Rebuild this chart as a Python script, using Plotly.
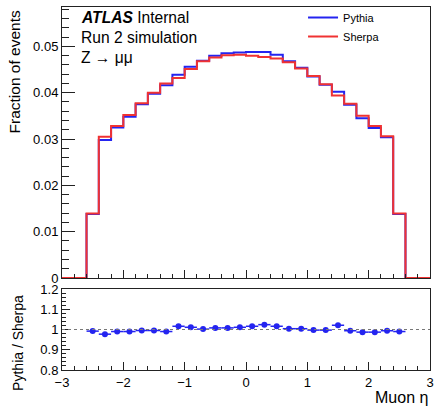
import plotly.graph_objects as go

# ---------------- data ----------------
bin_edges = [-3.0, -2.8, -2.6, -2.4, -2.2, -2.0, -1.8, -1.6, -1.4, -1.2, -1.0,
             -0.8, -0.6, -0.4, -0.2, 0.0, 0.2, 0.4, 0.6, 0.8, 1.0,
             1.2, 1.4, 1.6, 1.8, 2.0, 2.2, 2.4, 2.6, 2.8, 3.0]

pythia_frac = [0.0, 0.0,
               0.0138, 0.0298, 0.0325, 0.0348, 0.0375, 0.0398, 0.0416, 0.0439,
               0.0456, 0.0469, 0.0480, 0.0485, 0.0487, 0.0488, 0.0488, 0.0482,
               0.0468, 0.0454, 0.0435, 0.0417, 0.0402, 0.0374, 0.0345, 0.0324,
               0.0304, 0.0138,
               0.0, 0.0]

sherpa_frac = [0.0, 0.0,
               0.0139, 0.0305, 0.0328, 0.0352, 0.0377, 0.0400, 0.0420, 0.0432,
               0.0451, 0.0468, 0.0476, 0.0481, 0.0482, 0.0480, 0.0477, 0.0474,
               0.0466, 0.0452, 0.0436, 0.0418, 0.0394, 0.0376, 0.0350, 0.0328,
               0.0306, 0.0139,
               0.0, 0.0]

ratio_x = [-2.5, -2.3, -2.1, -1.9, -1.7, -1.5, -1.3, -1.1, -0.9, -0.7, -0.5,
           -0.3, -0.1, 0.1, 0.3, 0.5, 0.7, 0.9, 1.1, 1.3, 1.5, 1.7, 1.9, 2.1,
           2.3, 2.5]
ratio_val = [0.992, 0.977, 0.990, 0.990, 0.995, 0.995, 0.990, 1.016, 1.011,
             1.002, 1.008, 1.008, 1.011, 1.016, 1.024, 1.016, 1.004, 1.004,
             0.997, 0.997, 1.021, 0.994, 0.987, 0.987, 0.994, 0.990]
ratio_err = [0.005, 0.004, 0.004, 0.004, 0.004, 0.004, 0.004, 0.004, 0.004,
             0.004, 0.004, 0.004, 0.004, 0.004, 0.004, 0.004, 0.004, 0.004,
             0.004, 0.004, 0.004, 0.004, 0.004, 0.004, 0.004, 0.005]
bin_half_width = 0.1

x_ticks = [-3, -2, -1, 0, 1, 2, 3]
x_ticklabels = ["\u22123", "\u22122", "\u22121", "0", "1", "2", "3"]
main_yticks = [0, 0.01, 0.02, 0.03, 0.04, 0.05]
main_yticklabels = ["0", "0.01", "0.02", "0.03", "0.04", "0.05"]
ratio_yticks = [0.8, 0.9, 1.0, 1.1, 1.2]
ratio_yticklabels = ["0.8", "0.9", "1", "1.1", "1.2"]

BLUE = "#2424f0"
RED = "#f03232"
FONT = "Liberation Sans, Arial, Helvetica, sans-serif"

fig = go.Figure()

fig.add_trace(go.Scatter(
    x=bin_edges, y=pythia_frac + [pythia_frac[-1]], mode="lines",
    line=dict(color=BLUE, width=2, shape="hv"), name="Pythia",
    legendgroup="pythia", xaxis="x", yaxis="y"))
fig.add_trace(go.Scatter(
    x=bin_edges, y=sherpa_frac + [sherpa_frac[-1]], mode="lines",
    line=dict(color=RED, width=2, shape="hv"), name="Sherpa",
    legendgroup="sherpa", xaxis="x", yaxis="y"))

fig.add_trace(go.Scatter(
    x=ratio_x, y=ratio_val, mode="markers",
    marker=dict(color=BLUE, size=6),
    error_x=dict(type="constant", value=bin_half_width, color=BLUE,
                 thickness=1.5, width=0),
    error_y=dict(type="data", array=ratio_err, color=BLUE,
                 thickness=1.5, width=0),
    showlegend=False, xaxis="x2", yaxis="y2"))

common_x = dict(range=[-3, 3], showline=True, linecolor="#222", linewidth=1,
                mirror=True, ticks="inside", tickcolor="#222",
                tickvals=x_ticks, showgrid=False, zeroline=False,
                minor=dict(dtick=0.2, tick0=0, ticks="inside", ticklen=4,
                           tickcolor="#222"))

fig.update_layout(
    width=434, height=410,
    margin=dict(l=62, r=4, t=7, b=40, autoexpand=False),
    paper_bgcolor="white", plot_bgcolor="white",
    font=dict(family=FONT, size=13, color="black"),
    xaxis=dict(**common_x, ticklen=8, showticklabels=False,
               domain=[0, 1], anchor="y", matches="x2"),
    yaxis=dict(range=[0, 0.0585], domain=[0.2534, 1], anchor="x",
               showline=True, linecolor="#222", linewidth=1, mirror=True,
               ticks="inside", ticklen=13, tickcolor="#222",
               tickvals=main_yticks, ticktext=main_yticklabels,
               showgrid=False, zeroline=False,
               minor=dict(dtick=0.002, tick0=0, ticks="inside", ticklen=7,
                          tickcolor="#222")),
    xaxis2=dict(**common_x, ticklen=8, ticktext=x_ticklabels,
                domain=[0, 1], anchor="y2"),
    yaxis2=dict(range=[0.8, 1.2], domain=[0, 0.2231], anchor="x2",
                showline=True, linecolor="#222", linewidth=1, mirror=True,
                ticks="inside", ticklen=8, tickcolor="#222",
                tickvals=ratio_yticks, ticktext=ratio_yticklabels,
                showgrid=False, zeroline=False,
                minor=dict(dtick=0.02, tick0=0.8, ticks="inside", ticklen=4,
                           tickcolor="#222")),
    legend=dict(x=0.655, y=1.011, xanchor="left", yanchor="top",
                bgcolor="rgba(0,0,0,0)", font=dict(size=11, family=FONT),
                itemwidth=30, tracegroupgap=0, traceorder="grouped"),
    showlegend=True,
)

# reference line at ratio 1
fig.add_shape(type="line", xref="x2", yref="y2", x0=-3, x1=3, y0=1, y1=1,
              line=dict(color="#777", width=1, dash="dot"))

# labels
fig.add_annotation(text="<b><i>ATLAS</i></b> Internal", xref="paper", yref="paper",
                   x=0.045, y=0.972, xanchor="left", yanchor="middle",
                   showarrow=False, font=dict(size=15.6, family=FONT))
fig.add_annotation(text="Run 2 simulation", xref="paper", yref="paper",
                   x=0.045, y=0.915, xanchor="left", yanchor="middle",
                   showarrow=False, font=dict(size=15.6, family=FONT))
fig.add_annotation(text="Z \u2192 \u03bc\u03bc", xref="paper", yref="paper",
                   x=0.045, y=0.862, xanchor="left", yanchor="middle",
                   showarrow=False, font=dict(size=15.6, family=FONT))
fig.add_annotation(text="Fraction of events", xref="paper", yref="paper",
                   x=-0.13, y=0.995, xanchor="center", yanchor="top",
                   textangle=-90, showarrow=False,
                   font=dict(size=15.5, family=FONT))
fig.add_annotation(text="Pythia / Sherpa", xref="paper", yref="paper",
                   x=-0.12, y=0.212, xanchor="center", yanchor="top",
                   textangle=-90, showarrow=False,
                   font=dict(size=14, family=FONT))
fig.add_annotation(text="Muon \u03b7", xref="paper", yref="paper",
                   x=1.0, y=-0.077, xanchor="right", yanchor="middle",
                   showarrow=False, font=dict(size=16, family=FONT))

# remove the browser's default page margin so the figure fills the window
fig.write_html("out.html",
               config={"displayModeBar": False},
               post_script="document.body.style.margin='0';"
                           "document.documentElement.style.overflow='hidden';")
